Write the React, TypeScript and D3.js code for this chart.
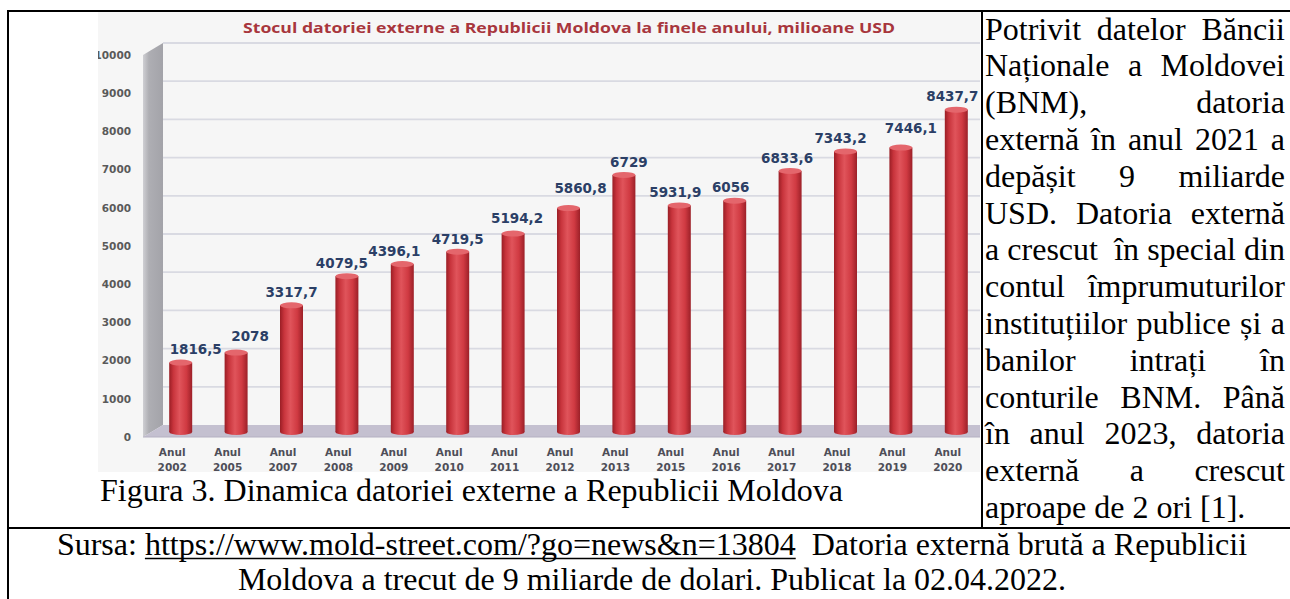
import React from 'react';
import * as d3 from 'd3';

// ---------- data ----------
const categories = ['2002', '2005', '2007', '2008', '2009', '2010', '2011', '2012', '2013', '2015', '2016', '2017', '2018', '2019', '2020'];
const values = [1816.5, 2078, 3317.7, 4079.5, 4396.1, 4719.5, 5194.2, 5860.8, 6729, 5931.9, 6056, 6833.6, 7343.2, 7446.1, 8437.7];
const valueLabels = ['1816,5', '2078', '3317,7', '4079,5', '4396,1', '4719,5', '5194,2', '5860,8', '6729', '5931,9', '6056', '6833,6', '7343,2', '7446,1', '8437,7'];
const yTicks = [0, 1000, 2000, 3000, 4000, 5000, 6000, 7000, 8000, 9000, 10000];
const categoryPrefix = 'Anul';
const chartTitle = 'Stocul datoriei externe a Republicii Moldova la finele anului, milioane USD';
const caption = 'Figura 3. Dinamica datoriei externe a Republicii Moldova';
const sideLines = [
  'Potrivit datelor Băncii',
  'Naționale a Moldovei',
  '(BNM), datoria',
  'externă în anul 2021 a',
  'depășit 9 miliarde',
  'USD. Datoria externă',
  'a crescut  în special din',
  'contul împrumuturilor',
  'instituțiilor publice și a',
  'banilor intrați în',
  'conturile BNM. Până',
  'în anul 2023, datoria',
  'externă a crescut',
  'aproape de 2 ori [1].',
];
const sourcePrefix = 'Sursa: ';
const sourceUrl = 'https://www.mold-street.com/?go=news&n=13804';
const sourceRest = '  Datoria externă brută a Republicii';
const sourceLine2 = 'Moldova a trecut de 9 miliarde de dolari. Publicat la 02.04.2022.';

// value label nudges (dx, dy)
const labelNudge = [[15, 0], [14, -3], [0, 0], [-5, 0], [-8, 0], [0, 0], [4, -2], [12, -7], [5, 0], [-4, 0], [-4, 0], [-3, 0], [-5, 0], [10, -6], [-4, 0]];

const SERIF = "'Liberation Serif', 'Times New Roman', serif";
const DOC_SIZE = 32;

let ctx: CanvasRenderingContext2D | null = null;
function measure(text: string, font: string): number {
  if (!ctx) ctx = document.createElement('canvas').getContext('2d');
  if (!ctx) return text.length * 14;
  ctx.font = font;
  return ctx.measureText(text).width;
}

export default function App() {
  const W = 1290, H = 599;
  const docFont = `${DOC_SIZE}px ${SERIF}`;

  // chart scales
  const yFront = d3.scaleLinear().domain([0, 10000]).range([437, 55]);
  const depthX = 20, depthY = -12;
  const barShift = -5;
  const xFront = d3.scaleBand<string>().domain(categories).range([143, 974]).paddingInner(0.585).paddingOuter(0.2925);
  const bw = xFront.bandwidth();
  const barCx = (c: string) => (xFront(c) as number) + bw / 2 + 10;
  const ry = 3;

  const imgX = 98, imgY = 12, imgR = 980, imgB = 472;

  const wallLeft = 143, wallRight = wallLeft + depthX;
  const wallPts = [
    [wallLeft, yFront(10000)],
    [wallRight, yFront(10000) + depthY],
    [wallRight, yFront(0) + depthY],
    [wallLeft, yFront(0)],
  ];
  const floorPts = [
    [wallLeft, yFront(0)],
    [wallRight, yFront(0) + depthY],
    [imgR, yFront(0) + depthY],
    [imgR, yFront(0)],
  ];

  // side column justified text
  const colX0 = 985, colX1 = 1285;
  const base0 = 39.5, lh = 36.8;

  const sideEls: React.ReactNode[] = [];
  sideLines.forEach((line, i) => {
    const y = base0 + i * lh;
    if (i === sideLines.length - 1) {
      sideEls.push(<text key={'s' + i} x={colX0} y={y}>{line}</text>);
      return;
    }
    const words = line.split(' ');
    const widths = words.map((w) => measure(w, docFont));
    const total = widths.reduce((a, b) => a + b, 0);
    const gap = (colX1 - colX0 - total) / (words.length - 1);
    let x = colX0;
    words.forEach((w, j) => {
      if (w.length) sideEls.push(<text key={'s' + i + '_' + j} x={x} y={y}>{w}</text>);
      x += widths[j] + gap;
    });
  });

  // source lines
  const srcCx = 652;
  const wPrefix = measure(sourcePrefix, docFont);
  const wUrl = measure(sourceUrl, docFont);
  const wRest = measure(sourceRest, docFont);
  const w1 = wPrefix + wUrl + wRest;
  const src1X = srcCx - w1 / 2;
  const src1Y = 555;
  const src2Y = 590;

  return (
    <svg width={W} height={H} viewBox={`0 0 ${W} ${H}`} style={{ position: 'absolute', left: 0, top: 0, background: '#ffffff' }}>
      <defs>
        <clipPath id="imgClip">
          <rect x={imgX} y={imgY} width={imgR - imgX} height={imgB - imgY} />
        </clipPath>
        <linearGradient id="barGrad" x1="0" x2="1" y1="0" y2="0">
          <stop offset="0%" stopColor="#9a1e25" />
          <stop offset="18%" stopColor="#c8343c" />
          <stop offset="45%" stopColor="#e0545b" />
          <stop offset="75%" stopColor="#d03a42" />
          <stop offset="100%" stopColor="#9c2028" />
        </linearGradient>
        <linearGradient id="wallGrad" x1="0" x2="1" y1="0" y2="0">
          <stop offset="0%" stopColor="#cfcfd3" />
          <stop offset="30%" stopColor="#aeaeb3" />
          <stop offset="100%" stopColor="#a3a3a9" />
        </linearGradient>
      </defs>

      {/* chart picture */}
      <g clipPath="url(#imgClip)">
        <rect x={imgX} y={imgY} width={imgR - imgX} height={imgB - imgY} fill="#f6f6f6" />
        <text x={(243 + 895) / 2} y={33} textAnchor="middle" fontFamily="'Open Sans', sans-serif" fontWeight={700} fontSize={15}
          fill="#a8363d" textLength={652} lengthAdjust="spacingAndGlyphs">{chartTitle}</text>
        {/* gridlines on back wall */}
        {yTicks.filter((t) => t > 0).map((t) => (
          <line key={'g' + t} x1={wallRight} x2={imgR} y1={yFront(t) + depthY} y2={yFront(t) + depthY} stroke="#d9dae2" strokeWidth={1.8} />
        ))}
        {/* side wall */}
        <polygon points={wallPts.map((p) => p.join(',')).join(' ')} fill="url(#wallGrad)" />
        {/* floor */}
        <polygon points={floorPts.map((p) => p.join(',')).join(' ')} fill="#c4c0d0" />
        <line x1={wallLeft} x2={imgR} y1={yFront(0)} y2={yFront(0)} stroke="#b4b0c2" strokeWidth={1} />
        {/* y tick labels */}
        {yTicks.map((t) => (
          <text key={'yt' + t} x={131} y={yFront(t) + 3.8} textAnchor="end" fontFamily="'DejaVu Sans', sans-serif" fontWeight={700}
            fontSize={10.5} fill="#5a5a5a">{t}</text>
        ))}
        {/* bars */}
        {categories.map((c, i) => {
          const cx = barCx(c);
          const yTop = yFront(values[i]) + barShift;
          const yBase = yFront(0) + barShift;
          return (
            <g key={'b' + c}>
              <rect x={cx - bw / 2} y={yTop} width={bw} height={yBase - yTop} fill="url(#barGrad)" />
              <ellipse cx={cx} cy={yBase} rx={bw / 2} ry={ry} fill="url(#barGrad)" />
              <ellipse cx={cx} cy={yTop} rx={bw / 2} ry={ry} fill="#e4666c" />
            </g>
          );
        })}
        {/* value labels */}
        {categories.map((c, i) => {
          const cx = barCx(c) + labelNudge[i][0];
          const yTop = yFront(values[i]) + barShift - ry;
          const yc = yTop - 10 + labelNudge[i][1];
          return (
            <text key={'v' + c} x={cx} y={yc + 4.8} textAnchor="middle" fontFamily="'DejaVu Sans', sans-serif" fontWeight={700}
              fontSize={13.5} fill="#2b3f66">{valueLabels[i]}</text>
          );
        })}
        {/* category labels */}
        {categories.map((c) => {
          const cx = (xFront(c) as number) + bw / 2 + 1.5;
          return (
            <g key={'c' + c} fontFamily="'DejaVu Sans', sans-serif" fontWeight={700} fontSize={10.5} fill="#4e4e58" textAnchor="middle">
              <text x={cx} y={456}>{categoryPrefix}</text>
              <text x={cx} y={470.5}>{c}</text>
            </g>
          );
        })}
      </g>

      {/* document text */}
      <g fontFamily={SERIF} fontSize={DOC_SIZE} fill="#000">
        <text x={100} y={501}>{caption}</text>
        {sideEls}
        <text x={src1X} y={src1Y}>
          <tspan>{sourcePrefix}</tspan>
          <tspan>{sourceUrl}</tspan>
          <tspan style={{ whiteSpace: 'pre' }}>{sourceRest}</tspan>
        </text>
        <text x={srcCx} y={src2Y} textAnchor="middle">{sourceLine2}</text>
      </g>
      <line x1={src1X + wPrefix} x2={src1X + wPrefix + wUrl} y1={src1Y + 3.5} y2={src1Y + 3.5} stroke="#000" strokeWidth={1.6} />

      {/* table borders */}
      <g stroke="#000" strokeWidth={2}>
        <line x1={7} x2={W} y1={11} y2={11} />
        <line x1={8} x2={8} y1={10} y2={H} />
        <line x1={982} x2={982} y1={10} y2={528} />
        <line x1={7} x2={W} y1={528} y2={528} />
      </g>
    </svg>
  );
}
